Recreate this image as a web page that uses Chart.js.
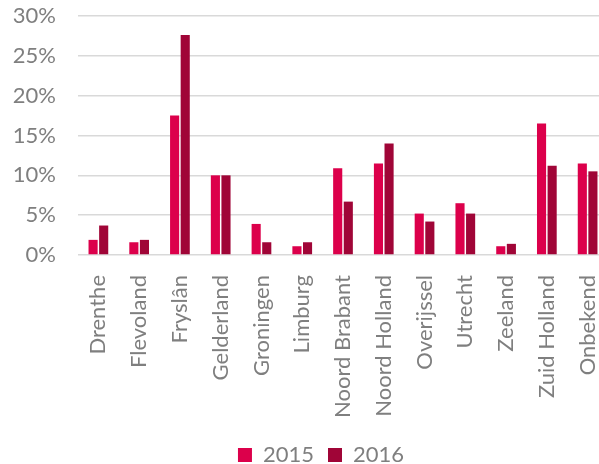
<!DOCTYPE html>
<html>
<head>
<meta charset="utf-8">
<script src="https://cdn.jsdelivr.net/npm/chart.js@4.4.0/dist/chart.umd.min.js"></script>
<style>
  html, body { margin: 0; padding: 0; background: #fff; overflow: hidden; }
  #wrap { width: 599px; height: 464px; overflow: hidden; }
</style>
</head>
<body>
<div id="wrap"><canvas id="provChart" width="640" height="476"></canvas></div>
<script>
// Provinces (categories)
const provinces = [
  "Drenthe", "Flevoland", "Fryslân", "Gelderland", "Groningen", "Limburg",
  "Noord Brabant", "Noord Holland", "Overijssel", "Utrecht", "Zeeland",
  "Zuid Holland", "Onbekend"
];

// Share per province, in percent
const values2015 = [1.9, 1.6, 17.5, 10.0, 3.9, 1.1, 10.9, 11.5, 5.2, 6.5, 1.1, 16.5, 11.5];
const values2016 = [3.7, 1.9, 27.6, 10.0, 1.6, 1.6, 6.7, 14.0, 4.2, 5.2, 1.4, 11.2, 10.5];

const yTicks = [0, 5, 10, 15, 20, 25, 30];

const textColor = "#7f7f7f";
const fontFamily = "Lato, 'Open Sans', sans-serif";

// nudge the legend a bit to the right, the original one is centred on the full chart
const legendShift = {
  id: "legendShift",
  afterLayout(chart) {
    chart.legend.left += 17;
    chart.legend.right += 17;
  },
};

const ctx = document.getElementById("provChart").getContext("2d");

new Chart(ctx, {
  type: "bar",
  data: {
    labels: provinces,
    datasets: [
      {
        label: "2015",
        data: values2015,
        backgroundColor: "#dc004b",
        categoryPercentage: 0.52,
        barPercentage: 0.86,
      },
      {
        label: "2016",
        data: values2016,
        backgroundColor: "#a00537",
        categoryPercentage: 0.52,
        barPercentage: 0.86,
      },
    ],
  },
  plugins: [legendShift],
  options: {
    responsive: false,
    animation: false,
    layout: { padding: { top: 16, right: 32, left: 0, bottom: 0 } },
    plugins: {
      legend: {
        position: "bottom",
        labels: {
          color: textColor,
          font: { family: fontFamily, size: 22 },
          boxWidth: 14,
          boxHeight: 14,
          padding: 14,
        },
      },
      tooltip: { enabled: false },
    },
    scales: {
      x: {
        grid: { display: false },
        border: { display: false },
        ticks: {
          color: textColor,
          font: { family: fontFamily, size: 22 },
          minRotation: 90,
          maxRotation: 90,
          autoSkip: false,
          padding: 12,
        },
        afterFit: (scale) => { scale.height = 175; },
      },
      y: {
        min: 0,
        max: 30,
        afterBuildTicks: (scale) => {
          scale.ticks = yTicks.map((v) => ({ value: v }));
        },
        grid: { color: "#d9d9d9", lineWidth: 1.5, drawTicks: false },
        border: { display: false },
        ticks: {
          color: textColor,
          font: { family: fontFamily, size: 22 },
          padding: 22,
          callback: (value) => value + "%",
        },
        afterFit: (scale) => {
          scale.width = 78;
          scale.paddingTop = 0;
          scale.paddingBottom = 0;
        },
      },
    },
  },
});
</script>
</body>
</html>
